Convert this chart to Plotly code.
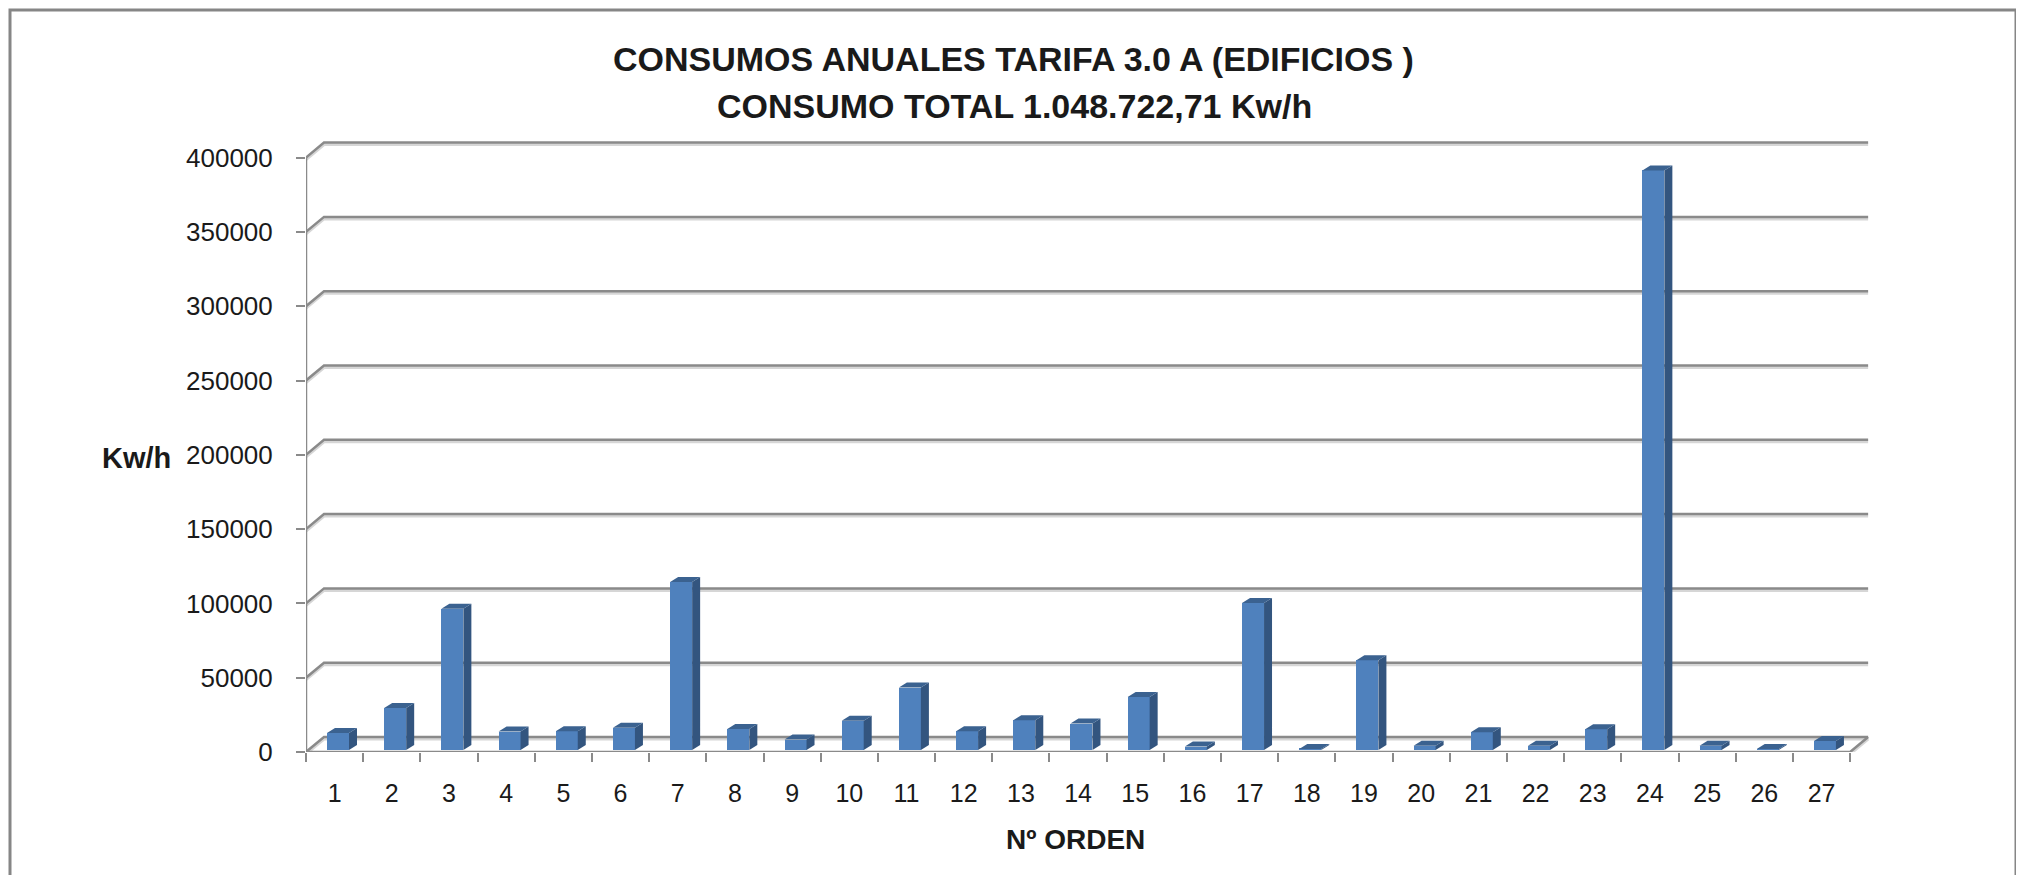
import plotly.graph_objects as go

# ---------------- data ----------------
categories = [str(i) for i in range(1, 28)]
consumo_kwh = [11500, 28300, 95000, 12400, 12600, 14900, 113000, 14200, 7000, 19600,
               42000, 12600, 20000, 17800, 35700, 2300, 99000, 700, 60400, 2900,
               12000, 2800, 14000, 390000, 2800, 600, 6000]
y_ticks = [0, 50000, 100000, 150000, 200000, 250000, 300000, 350000, 400000]
title_l1 = "CONSUMOS ANUALES TARIFA 3.0 A (EDIFICIOS )"
title_l2 = "CONSUMO TOTAL 1.048.722,71 Kw/h"
x_title = "Nº ORDEN"
y_title = "Kw/h"

# ---------------- geometry / style ----------------
W, H = 2024, 875
PAGE_OFF = 8                       # default body margin of the html page
PLOT_L, PLOT_R, PLOT_T, PLOT_B = 306, 1869, 140, 752   # target page pixels
ML = PLOT_L - PAGE_OFF
MT = PLOT_T - PAGE_OFF
plot_w = PLOT_R - PLOT_L
plot_h = PLOT_B - PLOT_T
MR = W - ML - plot_w
MB = H - MT - plot_h
cat_px = 57.19
val_px = 74.3 / 50000.0
n = len(categories)
xs = list(range(1, n + 1))
x_max = 0.5 + plot_w / cat_px
y_max = plot_h / val_px

DX = 18 / cat_px          # depth shift of back wall (x units)
DY = 15 / val_px          # depth shift of back wall (y units)
BAR_W = 22 / cat_px
BAR_OFF = 3.4 / cat_px
BAR_BASE = 2 / val_px
SDX = 8 / cat_px          # bar depth
SDY = 5 / val_px

FRONT = "#4F81BD"
SIDE = "#33557F"
TOP = "#3B6290"
GRID = "#8A8A8A"
SHADOW = "#D6D6D6"
TXT = "#1a1a1a"
FONT = "Liberation Sans, Arial, sans-serif"

fig = go.Figure()

# front faces of the columns
bar_x = [x + BAR_OFF for x in xs]
fig.add_trace(go.Bar(
    x=bar_x, y=consumo_kwh, base=[BAR_BASE] * n, width=BAR_W,
    marker=dict(color=FRONT, line=dict(width=0)), hoverinfo="skip", showlegend=False))

# side and top faces
side_x, side_y, top_x, top_y = [], [], [], []
for bx, v in zip(bar_x, consumo_kwh):
    xl = bx - BAR_W / 2
    xr = bx + BAR_W / 2
    b = BAR_BASE
    t = BAR_BASE + v
    side_x += [xr, xr + SDX, xr + SDX, xr, xr, None]
    side_y += [b, b + SDY, t + SDY, t, b, None]
    top_x += [xl, xr, xr + SDX, xl + SDX, xl, None]
    top_y += [t, t, t + SDY, t + SDY, t, None]
fig.add_trace(go.Scatter(x=side_x, y=side_y, mode="lines", fill="toself",
                         fillcolor=SIDE, line=dict(width=0), hoverinfo="skip", showlegend=False))
fig.add_trace(go.Scatter(x=top_x, y=top_y, mode="lines", fill="toself",
                         fillcolor=TOP, line=dict(width=0), hoverinfo="skip", showlegend=False))

shapes = []
x0 = 0.5
x1 = n + 0.5
sh = 2 / val_px
# gridlines on the back wall with the diagonal on the side wall
for v in y_ticks:
    for col, wdt, off in ((SHADOW, 3, -sh), (GRID, 2.5, 0)):
        path = f"M {x0},{v + off} L {x0 + DX},{v + DY + off} L {x1 + DX},{v + DY + off}"
        shapes.append(dict(type="path", path=path, xref="x", yref="y", layer="below",
                           line=dict(color=col, width=wdt)))
# floor front and right edges
for col, wdt, off in ((SHADOW, 3, -sh), (GRID, 2.5, 0)):
    path = f"M {x0},{off} L {x1},{off} L {x1 + DX},{DY + off}"
    shapes.append(dict(type="path", path=path, xref="x", yref="y", layer="below",
                       line=dict(color=col, width=wdt)))
# vertical value axis line
shapes.append(dict(type="line", x0=x0, x1=x0, y0=0, y1=y_ticks[-1], xref="x", yref="y",
                   layer="below", line=dict(color=GRID, width=2.5)))


# page pixel -> paper coordinates
def px_x(p):
    return (p - PLOT_L) / plot_w


def px_y(p):
    return (PLOT_B - p) / plot_h


# chart border
shapes.append(dict(type="rect", xref="paper", yref="paper",
                   x0=px_x(10), x1=px_x(2016), y0=px_y(10), y1=px_y(900),
                   line=dict(color="#868686", width=3), fillcolor="rgba(0,0,0,0)", layer="below"))

annotations = [
    dict(text=y_title, xref="paper", yref="paper", x=px_x(136), y=px_y(458),
         xanchor="center", yanchor="middle", showarrow=False,
         font=dict(family=FONT, size=29, color=TXT, weight="bold")),
    dict(text=x_title, xref="paper", yref="paper", x=px_x(1075), y=px_y(839),
         xanchor="center", yanchor="middle", showarrow=False,
         font=dict(family=FONT, size=28, color=TXT, weight="bold")),
    dict(text=title_l1, xref="paper", yref="paper", x=px_x(1013), y=px_y(59),
         xanchor="center", yanchor="middle", showarrow=False,
         font=dict(family=FONT, size=34, color=TXT, weight="bold")),
    dict(text=title_l2, xref="paper", yref="paper", x=px_x(1014), y=px_y(106),
         xanchor="center", yanchor="middle", showarrow=False,
         font=dict(family=FONT, size=34, color=TXT, weight="bold")),
]

fig.update_layout(
    width=W, height=H,
    margin=dict(l=ML, r=MR, t=MT, b=MB, pad=0),
    paper_bgcolor="white", plot_bgcolor="rgba(0,0,0,0)",
    shapes=shapes, annotations=annotations,
    bargap=0, showlegend=False,
    xaxis=dict(range=[0.5, x_max], tickmode="array", tickvals=xs, ticktext=categories,
               ticks="", showgrid=False, zeroline=False, showline=False,
               tickfont=dict(family=FONT, size=25, color=TXT), ticklabelstandoff=24,
               minor=dict(tickmode="array", tickvals=[i + 0.5 for i in range(0, n + 1)],
                          ticks="outside", ticklen=9, tickwidth=2, tickcolor=GRID, showgrid=False),
               fixedrange=True),
    yaxis=dict(range=[0, y_max], tickmode="array", tickvals=y_ticks,
               ticktext=[str(v) for v in y_ticks],
               ticks="outside", ticklen=9, tickwidth=2, tickcolor=GRID,
               showgrid=False, zeroline=False, showline=False,
               tickfont=dict(family=FONT, size=26, color=TXT), ticklabelstandoff=18,
               fixedrange=True),
)

fig.write_html("out.html")
